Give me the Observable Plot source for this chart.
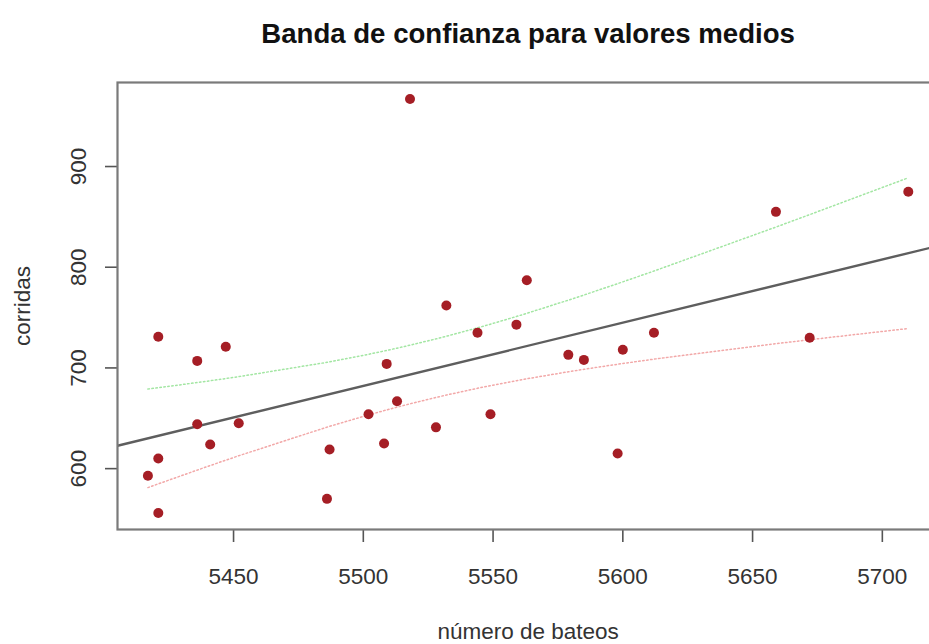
<!DOCTYPE html>
<html>
<head>
<meta charset="utf-8">
<script src="https://cdn.jsdelivr.net/npm/d3@7"></script>
<script src="https://cdn.jsdelivr.net/npm/@observablehq/plot@0.6"></script>
<style>
  html, body { margin: 0; padding: 0; background: #fff; overflow: hidden; }
</style>
</head>
<body>
<div id="chart"></div>
<script>
// Data
const bateos = [5659, 5710, 5563, 5672, 5532, 5600, 5518, 5447, 5544, 5598, 5585, 5436, 5549, 5612, 5513,
                5579, 5502, 5509, 5421, 5559, 5487, 5508, 5421, 5452, 5436, 5528, 5441, 5486, 5417, 5421];
const corridas = [855, 875, 787, 730, 762, 718, 967, 721, 735, 615, 708, 644, 654, 735, 667,
                  713, 654, 704, 731, 743, 619, 625, 610, 645, 707, 641, 624, 570, 593, 556];
const xTicks = [5450, 5500, 5550, 5600, 5650, 5700];
const yTicks = [600, 700, 800, 900];
const titulo = "Banda de confianza para valores medios";
const xTitulo = "número de bateos";
const yTitulo = "corridas";

const data = bateos.map((x, i) => ({x, y: corridas[i]}));

// Least squares fit and 95% confidence band for the mean (as R's predict(..., interval="confidence"))
const n = data.length;
const mx = d3.mean(bateos), my = d3.mean(corridas);
const sxx = d3.sum(bateos, x => (x - mx) ** 2);
const sxy = d3.sum(data, d => (d.x - mx) * (d.y - my));
const b1 = sxy / sxx, b0 = my - b1 * mx;
const s = Math.sqrt(d3.sum(data, d => (d.y - b0 - b1 * d.x) ** 2) / (n - 2));
const tq = 2.048407; // t(0.975, df = 28)
const band = [...new Set(bateos)].sort((a, b) => a - b).map(x => {
  const fit = b0 + b1 * x;
  const h = tq * s * Math.sqrt(1 / n + (x - mx) ** 2 / sxx);
  return {x, fit, lo: fit - h, hi: fit + h};
});

// R-style 4% axis extension
const pad = ([a, b]) => [a - 0.04 * (b - a), b + 0.04 * (b - a)];
const xDom = pad(d3.extent(bateos));
const yDom = pad(d3.extent(corridas));
const abline = xDom.map(x => ({x, y: b0 + b1 * x}));

const font = "'Liberation Sans', Arial, Helvetica, sans-serif";

const chart = Plot.plot({
  width: 929,
  height: 644,
  marginLeft: 117,
  marginRight: -9.2,   // the plot box runs past the right edge of the picture, as in the reference
  marginTop: 82,
  marginBottom: 115,
  style: {fontFamily: font, background: "#fff"},
  x: {domain: xDom},
  y: {domain: yDom},
  marks: [
    Plot.axisX({ticks: xTicks, tickSize: 13, text: null, label: null, stroke: "#555", strokeWidth: 1.6}),
    Plot.axisY({ticks: yTicks, tickSize: 12, text: null, label: null, stroke: "#555", strokeWidth: 1.6}),
    Plot.text(xTicks, {x: d => d, frameAnchor: "bottom", dy: 47, lineAnchor: "middle", text: d => String(d),
      fontSize: 22.5, fill: "#333"}),
    Plot.text(yTicks, {y: d => d, frameAnchor: "left", dx: -39, rotate: -90, textAnchor: "middle", lineAnchor: "middle",
      text: d => String(d), fontSize: 22.5, fill: "#333"}),
    Plot.text([xTitulo], {frameAnchor: "bottom", dy: 102, lineAnchor: "middle", text: d => d, fontSize: 22.5,
      fill: "#333"}),
    Plot.text([yTitulo], {frameAnchor: "left", dx: -95, rotate: -90, textAnchor: "middle", lineAnchor: "middle",
      text: d => d, fontSize: 22.5, fill: "#333"}),
    Plot.text([titulo], {frameAnchor: "top", dy: -48, lineAnchor: "middle", text: d => d, fontSize: 27.6,
      fontWeight: "bold", fill: "#111"}),
    Plot.line(band, {x: "x", y: "hi", stroke: "#a3e6a3", strokeWidth: 1.5, strokeDasharray: "1.5,2.5"}),
    Plot.line(band, {x: "x", y: "lo", stroke: "#f2a8a8", strokeWidth: 1.5, strokeDasharray: "1.5,2.5"}),
    Plot.line(abline, {x: "x", y: "y", stroke: "#5e5e5e", strokeWidth: 2.4, clip: true}),
    Plot.dot(data, {x: "x", y: "y", r: 5, fill: "#a51e25", stroke: "none"}),
    Plot.frame({stroke: "#7a7a7a", strokeWidth: 2.2})
  ]
});
document.getElementById("chart").appendChild(chart);
</script>
</body>
</html>
